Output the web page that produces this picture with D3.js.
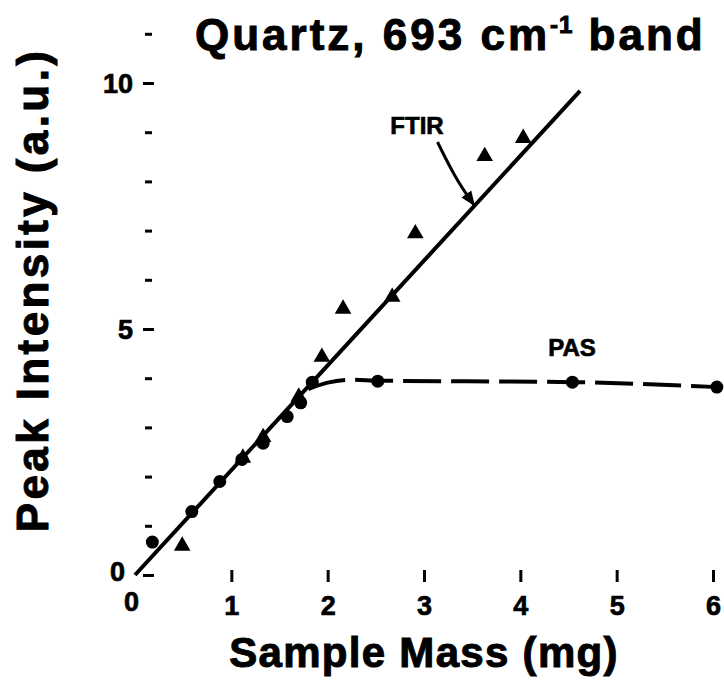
<!DOCTYPE html>
<html>
<head>
<meta charset="utf-8">
<script src="https://cdn.jsdelivr.net/npm/d3@7"></script>
<style>
  html, body { margin: 0; padding: 0; background: #fff; }
  svg { display: block; }
  text { font-family: "Liberation Sans", Arial, Helvetica, sans-serif; font-weight: bold; fill: #000; }
</style>
</head>
<body>
<svg id="chart" width="724" height="689"></svg>
<script>
// ---- data ----
const xTickValues = [0, 1, 2, 3, 4, 5, 6];
const yMajorTicks = [0, 5, 10];
const yMinorTicks = [1, 2, 3, 4, 6, 7, 8, 9, 11];

// FTIR measurements (triangles)
const ftirMass      = [0.49, 1.12, 1.33, 1.70, 1.94, 2.16, 2.67, 2.91, 3.63, 4.03];
const ftirIntensity = [0.59, 2.38, 2.80, 3.62, 4.43, 5.41, 5.65, 6.94, 8.51, 8.88];

// PAS measurements (dots)
const pasMass      = [0.18, 0.59, 0.88, 1.11, 1.33, 1.58, 1.72, 1.84, 2.52, 4.54, 6.04];
const pasIntensity = [0.67, 1.29, 1.90, 2.35, 2.68, 3.22, 3.50, 3.92, 3.94, 3.92, 3.82];

// FTIR linear fit (solid)
const fitMass      = [0, 4.62];
const fitIntensity = [0, 9.84];

// PAS saturation curve (dashed)
const pasCurveMass      = [1.80, 2.00, 2.25, 2.52, 4.54, 6.04];
const pasCurveIntensity = [3.78, 3.91, 3.97, 3.95, 3.92, 3.82];

// ---- scales ----
const svg = d3.select("#chart");
const x = d3.scaleLinear().domain([0, 6]).range([135, 713]);
const y = d3.scaleLinear().domain([0, 10]).range([575, 83]);

// ---- title ----
const title = svg.append("text").attr("x", 195).attr("y", 50)
  .style("font-size", "44px").style("letter-spacing", "3px")
  .attr("stroke", "#000").attr("stroke-width", 1);
title.append("tspan").text("Quartz, 693 cm");
title.append("tspan").attr("dy", -17).style("font-size", "24px").style("letter-spacing", "1px").text("-1");
title.append("tspan").attr("dy", 17).text(" band");

// ---- y axis (ticks only, no domain line) ----
const yAxis = d3.axisLeft(y).tickValues(yMajorTicks).tickSize(11).tickPadding(10).tickFormat(d3.format("d"));
const gy = svg.append("g").attr("transform", "translate(154,0)").call(yAxis);
gy.select(".domain").remove();
gy.selectAll(".tick line").attr("stroke", "#000").attr("stroke-width", 3);
gy.selectAll(".tick text").style("font-size", "27px").attr("stroke", "#000").attr("stroke-width", 0.7)
  .attr("font-family", null).attr("dy", "0.35em");
gy.selectAll(".tick").filter(d => d === 0).select("text").attr("x", -29).attr("dy", "0.2em");

const yMinor = d3.axisLeft(y).tickValues(yMinorTicks).tickSize(7).tickFormat("");
const gym = svg.append("g").attr("transform", "translate(152,0)").call(yMinor);
gym.select(".domain").remove();
gym.selectAll(".tick line").attr("stroke", "#000").attr("stroke-width", 3);

// ---- x axis (ticks only) ----
const xAxis = d3.axisBottom(x).tickValues(xTickValues).tickSize(12).tickPadding(14).tickFormat(d3.format("d"));
const gx = svg.append("g").attr("transform", "translate(0,570)").call(xAxis);
gx.select(".domain").remove();
gx.selectAll(".tick line").attr("stroke", "#000").attr("stroke-width", 3);
gx.selectAll(".tick").filter(d => d === 0).select("line").remove();
gx.selectAll(".tick text").style("font-size", "27px").attr("stroke", "#000").attr("stroke-width", 0.7)
  .attr("font-family", null);
gx.selectAll(".tick").filter(d => d === 0).select("text").attr("dx", -4).attr("y", 22);

// ---- axis titles ----
svg.append("text").attr("x", 424).attr("y", 667).attr("text-anchor", "middle")
  .style("font-size", "42px").style("letter-spacing", "1.3px")
  .attr("stroke", "#000").attr("stroke-width", 1)
  .text("Sample Mass (mg)");
svg.append("text").attr("transform", "translate(48,290) rotate(-90)").attr("text-anchor", "middle")
  .style("font-size", "44px").style("letter-spacing", "3.4px")
  .attr("stroke", "#000").attr("stroke-width", 1)
  .text("Peak Intensity (a.u.)");

// ---- FTIR fit line ----
const line = d3.line().x(d => x(d[0])).y(d => y(d[1]));
svg.append("path").datum(d3.zip(fitMass, fitIntensity))
  .attr("d", line).attr("fill", "none").attr("stroke", "#000").attr("stroke-width", 4);

// ---- PAS dashed curve ----
const curve = d3.line().x(d => x(d[0])).y(d => y(d[1])).curve(d3.curveMonotoneX);
svg.append("path").datum(d3.zip(pasCurveMass, pasCurveIntensity))
  .attr("d", curve).attr("fill", "none").attr("stroke", "#000").attr("stroke-width", 4)
  .attr("stroke-dasharray", "38,10");

// ---- PAS dots ----
svg.append("g").selectAll("circle").data(d3.zip(pasMass, pasIntensity)).join("circle")
  .attr("cx", d => x(d[0])).attr("cy", d => y(d[1])).attr("r", 6.5).attr("fill", "#000");

// ---- FTIR triangles ----
const tri = d3.symbol().type(d3.symbolTriangle).size(120);
svg.append("g").selectAll("path").data(d3.zip(ftirMass, ftirIntensity)).join("path")
  .attr("d", tri).attr("transform", d => `translate(${x(d[0])},${y(d[1])})`).attr("fill", "#000");

// ---- annotations ----
svg.append("text").attr("x", 417).attr("y", 134).attr("text-anchor", "middle")
  .style("font-size", "24px").attr("stroke", "#000").attr("stroke-width", 0.7).text("FTIR");
svg.append("text").attr("x", 572).attr("y", 356).attr("text-anchor", "middle")
  .style("font-size", "24px").attr("stroke", "#000").attr("stroke-width", 0.7).text("PAS");

const defs = svg.append("defs");
defs.append("marker").attr("id", "ah").attr("viewBox", "0 0 10 10").attr("refX", 9).attr("refY", 5)
  .attr("markerWidth", 5).attr("markerHeight", 5).attr("orient", "auto")
  .append("path").attr("d", "M0,1 L10,5 L0,9 Z").attr("fill", "#000");
const arrowPts = [[3.14, 8.80], [3.33, 8.05], [3.52, 7.52]];
svg.append("path").datum(arrowPts)
  .attr("d", d3.line().x(d => x(d[0])).y(d => y(d[1])).curve(d3.curveBasis))
  .attr("fill", "none").attr("stroke", "#000").attr("stroke-width", 3).attr("marker-end", "url(#ah)");
</script>
</body>
</html>
